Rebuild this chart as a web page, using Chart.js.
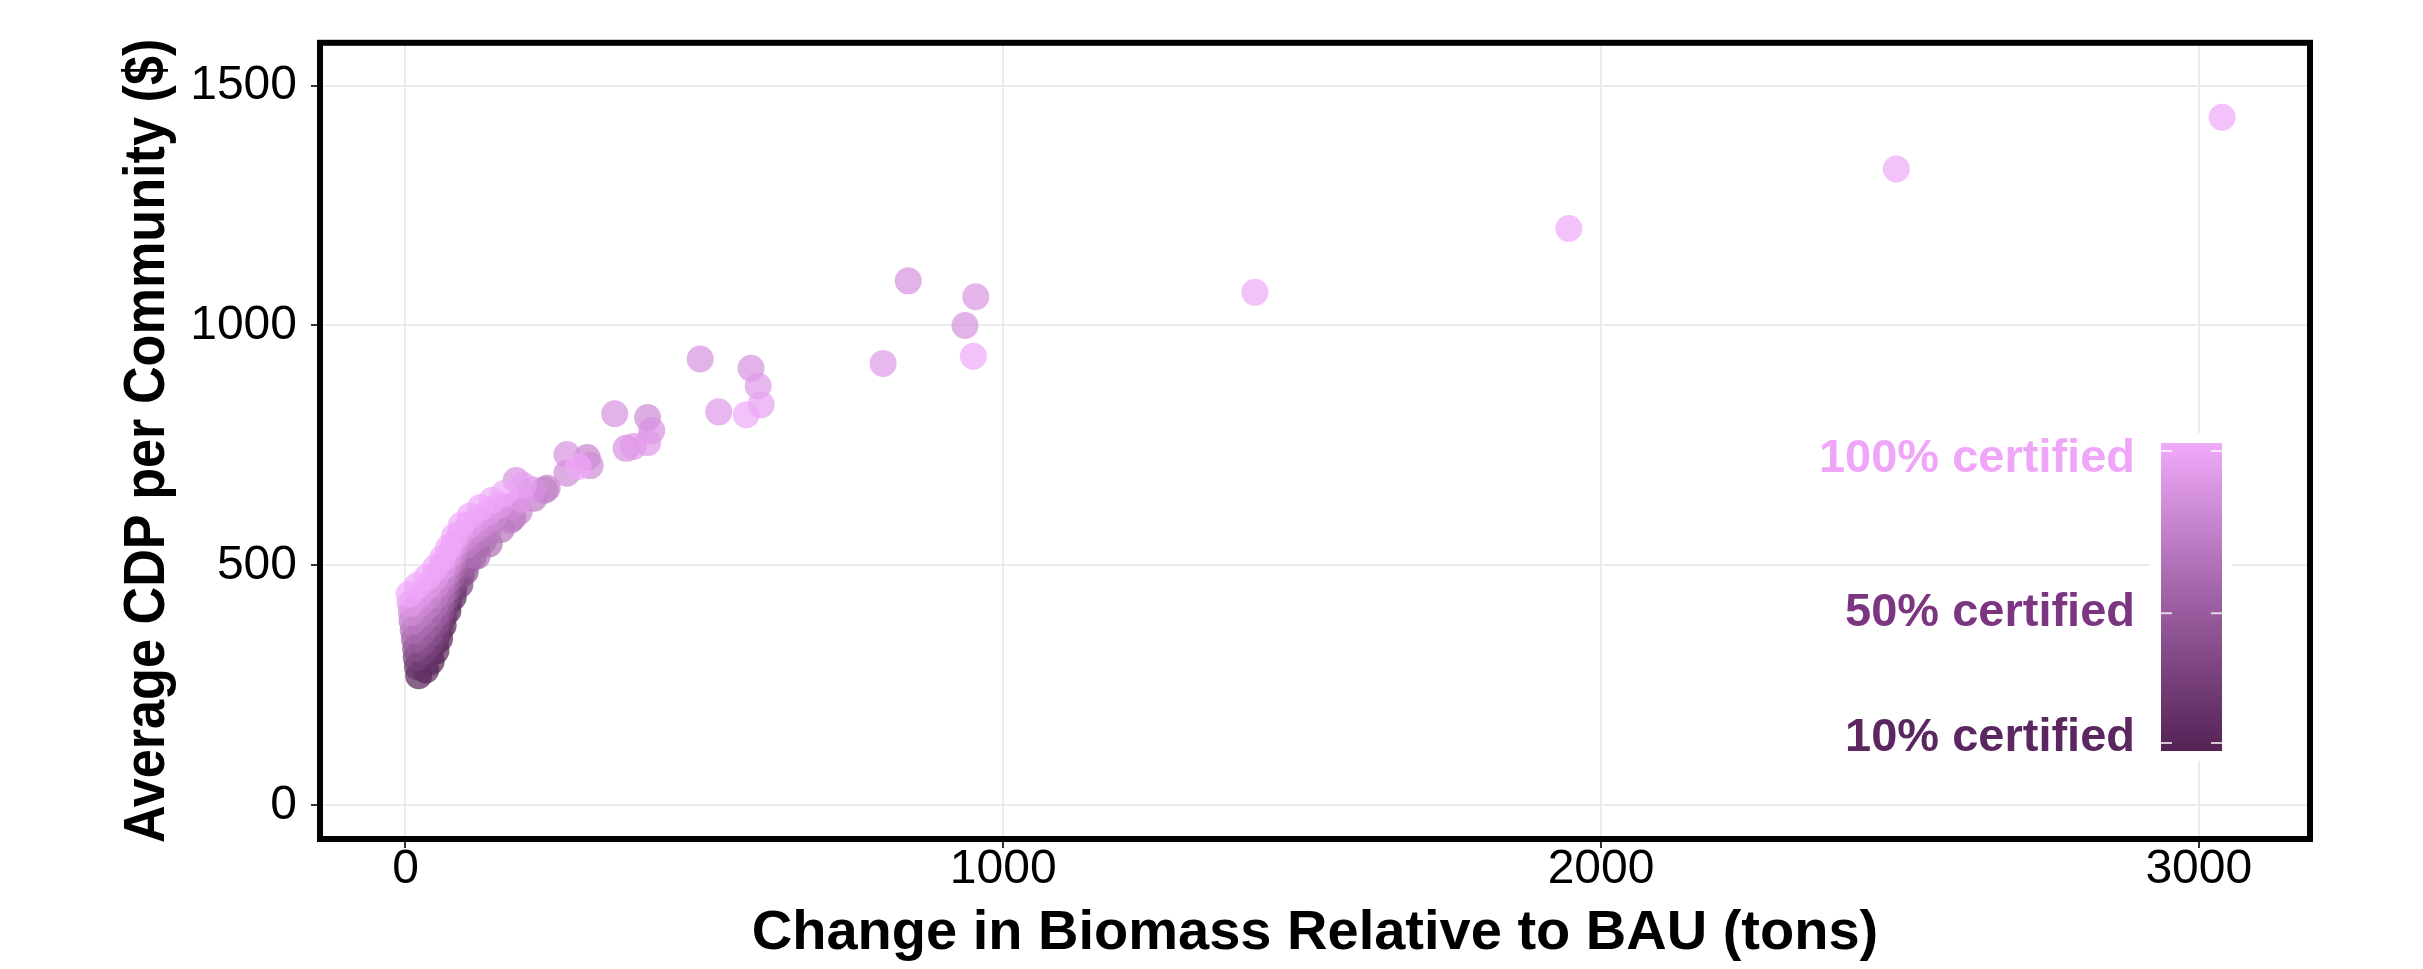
<!DOCTYPE html>
<html>
<head>
<meta charset="utf-8">
<script src="https://cdn.jsdelivr.net/npm/chart.js@4.4.0/dist/chart.umd.min.js"></script>
<style>
  html, body { margin: 0; padding: 0; background: #fff; }
  #wrap { width: 2423px; height: 969px; position: relative; }
</style>
</head>
<body>
<div id="wrap"><canvas id="cdpChart"></canvas></div>
<script>
'use strict';

// Data
// change in biomass (tons), average CDP ($), share certified (%)
// dense group near the origin: one run per community, from 10% up to 100% certified
const biomass = [
  22, 20, 18, 17, 15, 13, 11, 10, 8, 6,
  34, 32, 31, 29, 28, 26, 25, 23, 22, 20,
  43, 42, 41, 41, 40, 39, 38, 38, 37, 36,
  51, 51, 51, 51, 51, 50, 50, 50, 50, 50,
  57, 58, 58, 59, 59, 60, 60, 61, 61, 62,
  63, 64, 65, 66, 67, 68, 69, 70, 71, 72,
  71, 72, 73, 75, 76, 77, 78, 80, 81, 82,
  80, 81, 83, 84, 86, 87, 89, 90, 92, 93,
  91, 93, 96, 98, 101, 103, 106, 108,
  100, 104, 108, 112, 117, 121, 125,
  113, 119, 126, 132, 139, 145,
  130, 139, 148, 156, 165,
  120, 140, 160, 180, 215, 176, 190, 194, 178, 130, 150, 165,
  185, 197, 213, 233, 237, 270, 289, 309, 304, 270, 350, 405, 412, 405, 381, 369,
  493, 578, 590, 595, 570, 524, 799, 841, 954, 936, 950, 1421, 1946, 2494, 3039
];
const cdp = [
  270, 289, 308, 327, 346, 365, 384, 402, 421, 440,
  282, 302, 321, 341, 360, 380, 399, 419, 438, 458,
  300, 319, 339, 358, 378, 397, 417, 436, 456, 475,
  322, 341, 360, 380, 399, 418, 437, 457, 476, 495,
  347, 366, 384, 403, 422, 440, 459, 478, 496, 515,
  375, 393, 411, 429, 447, 465, 483, 501, 519, 537,
  405, 422, 439, 457, 474, 491, 508, 526, 543, 560,
  434, 451, 467, 484, 500, 517, 533, 550, 566, 583,
  460, 480, 501, 521, 542, 562, 583, 603,
  487, 509, 531, 553, 576, 598, 620,
  517, 541, 565, 588, 612, 636,
  550, 575, 600, 625, 650,
  520, 545, 575, 600, 640, 594, 612, 638, 624, 570, 600, 620,
  677, 667, 657, 657, 661, 692, 706, 708, 725, 731, 816, 808, 781, 756, 748, 744,
  930, 911, 874, 835, 814, 820, 921, 1093, 1060, 1000, 936, 1069, 1202, 1326, 1434
];
const certified = [
  10, 20, 30, 40, 50, 60, 70, 80, 90, 100,
  10, 20, 30, 40, 50, 60, 70, 80, 90, 100,
  10, 20, 30, 40, 50, 60, 70, 80, 90, 100,
  10, 20, 30, 40, 50, 60, 70, 80, 90, 100,
  10, 20, 30, 40, 50, 60, 70, 80, 90, 100,
  10, 20, 30, 40, 50, 60, 70, 80, 90, 100,
  10, 20, 30, 40, 50, 60, 70, 80, 90, 100,
  10, 20, 30, 40, 50, 60, 70, 80, 90, 100,
  30, 40, 50, 60, 70, 80, 90, 100,
  40, 50, 60, 70, 80, 90, 100,
  50, 60, 70, 80, 90, 100,
  60, 70, 80, 90, 100,
  60, 60, 65, 65, 70, 70, 75, 90, 80, 55, 55, 60,
  85, 95, 85, 70, 75, 80, 100, 80, 75, 85, 85, 80, 85, 90, 90, 85,
  85, 85, 90, 95, 100, 90, 90, 85, 88, 85, 100, 100, 100, 100, 100
];

const xTicks = [0, 1000, 2000, 3000];
const yTicks = [0, 500, 1000, 1500];
const xTitle = 'Change in Biomass Relative to BAU (tons)';
const yTitle = 'Average CDP per Community ($)';
const legendLevels = [100, 50, 10];
const legendLabels = ['100% certified', '50% certified', '10% certified'];
const legendColors = ['#efa6f9', '#7b3581', '#5a2760'];

// Colours
const darkRGB = [86, 36, 86],
  lightRGB = [240, 168, 250];
const fontFamily = "'Liberation Sans', Arial, Helvetica, sans-serif";

function certColor(c, alpha) {
  const t = Math.max(0, Math.min(1, (c - 10) / 90));
  const rgb = darkRGB.map((d, k) => Math.round(d + (lightRGB[k] - d) * t));
  return 'rgba(' + rgb.join(',') + ',' + alpha + ')';
}

// darker points first, lighter ones drawn on top
const order = certified.map((c, i) => i).sort((a, b) => certified[a] - certified[b]);
const points = order.map(i => ({ x: biomass[i], y: cdp[i] }));
const pointColors = order.map(i => certColor(certified[i], 0.7));

// thick black panel border
const framePlugin = {
  id: 'frame',
  afterDatasetsDraw(chart) {
    const { ctx, chartArea: a } = chart;
    ctx.save();
    ctx.strokeStyle = '#000';
    ctx.lineWidth = 6;
    ctx.strokeRect(a.left, a.top, a.right - a.left, a.bottom - a.top);
    ctx.restore();
  }
};

// rotated, slightly condensed y title
const yTitlePlugin = {
  id: 'yTitle',
  afterDraw(chart) {
    const { ctx, chartArea: a } = chart;
    ctx.save();
    ctx.translate(164, (a.top + a.bottom) / 2);
    ctx.rotate(-Math.PI / 2);
    ctx.scale(0.9, 1);
    ctx.fillStyle = '#000';
    ctx.font = 'bold 58px ' + fontFamily;
    ctx.textAlign = 'center';
    ctx.textBaseline = 'alphabetic';
    ctx.fillText(yTitle, 0, 0);
    ctx.restore();
  }
};

// colour bar legend inside the panel
const colorbarPlugin = {
  id: 'colorbar',
  afterDraw(chart) {
    const ctx = chart.ctx;
    const barL = 2161, barR = 2222, barT = 443, barB = 751;
    const yHi = 451, yLo = 743; // positions of 100% and 10%
    const levelY = v => yLo + (v - 10) / 90 * (yHi - yLo);
    ctx.save();
    ctx.fillStyle = '#fff';
    ctx.fillRect(2150, 433, 82, 328);
    const g = ctx.createLinearGradient(0, barT, 0, barB);
    g.addColorStop(0, 'rgb(240,170,250)');
    g.addColorStop(0.5, 'rgb(160,98,166)');
    g.addColorStop(1, 'rgb(84,34,85)');
    ctx.fillStyle = g;
    ctx.fillRect(barL, barT, barR - barL, barB - barT);
    ctx.strokeStyle = 'rgba(255,255,255,0.75)';
    ctx.lineWidth = 2;
    ctx.font = 'bold 47px ' + fontFamily;
    ctx.textAlign = 'right';
    ctx.textBaseline = 'middle';
    legendLevels.forEach((v, k) => {
      const y = levelY(v);
      ctx.beginPath();
      ctx.moveTo(barL, y); ctx.lineTo(barL + 11, y);
      ctx.moveTo(barR - 11, y); ctx.lineTo(barR, y);
      ctx.stroke();
      ctx.fillStyle = legendColors[k];
      ctx.fillText(legendLabels[k], 2135, y + (k === 0 ? 8 : k === 1 ? 0 : -5));
    });
    ctx.restore();
  }
};

const cdpChart = new Chart(document.getElementById('cdpChart'), {
  type: 'scatter',
  data: {
    datasets: [
      {
        data: points,
        pointRadius: 13.5,
        pointHoverRadius: 13.5,
        pointBorderWidth: 0,
        pointBackgroundColor: pointColors
      }
    ]
  },
  options: {
    responsive: true,
    maintainAspectRatio: false,
    animation: false,
    layout: { padding: { left: 0, top: 36, right: 113, bottom: 0 } },
    plugins: {
      legend: { display: false },
      tooltip: { enabled: false }
    },
    scales: {
      x: {
        type: 'linear',
        min: -143,
        max: 3186,
        afterBuildTicks: s => { s.ticks = xTicks.map(v => ({ value: v })); },
        afterFit: s => { s.height = 130; },
        border: { display: false },
        grid: { color: '#ebebeb', lineWidth: 2, drawTicks: true, tickLength: 9, tickColor: '#333', tickWidth: 2 },
        ticks: {
          color: '#000',
          padding: -2,
          maxRotation: 0,
          callback: v => String(v),
          font: { family: fontFamily, size: 48, lineHeight: 1 }
        },
        title: {
          display: true,
          text: xTitle,
          color: '#000',
          padding: { top: 0, bottom: 2 },
          font: { family: fontFamily, size: 56, weight: 'bold', lineHeight: 1.2 }
        }
      },
      y: {
        type: 'linear',
        min: -70,
        max: 1589,
        afterBuildTicks: s => { s.ticks = yTicks.map(v => ({ value: v })); },
        afterFit: s => { s.width = 320; },
        border: { display: false },
        grid: { color: '#ebebeb', lineWidth: 2, drawTicks: true, tickLength: 9, tickColor: '#333', tickWidth: 2 },
        ticks: {
          color: '#000',
          padding: 14,
          callback: v => String(v),
          font: { family: fontFamily, size: 48 }
        }
      }
    }
  },
  plugins: [framePlugin, yTitlePlugin, colorbarPlugin]
});
</script>
</body>
</html>
